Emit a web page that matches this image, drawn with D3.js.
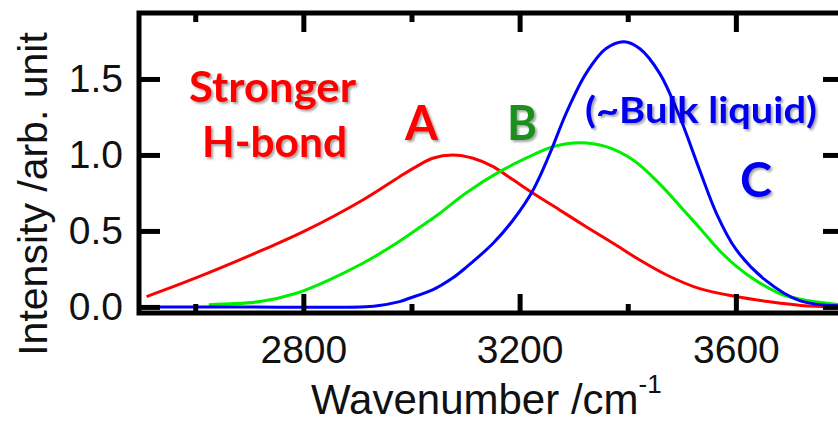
<!DOCTYPE html>
<html><head><meta charset="utf-8">
<script src="https://cdn.jsdelivr.net/npm/d3@7"></script>
<style>
body{margin:0;background:#fff}
svg{display:block}
</style>
</head><body>
<svg id="chart" width="838" height="425"></svg>
<script>
// ---- data ----
const xMajorTicks = [2800, 3200, 3600];
const xMinorTicks = [2600, 3000, 3400];
const yTicks = [0.0, 0.5, 1.0, 1.5];

const aWavenumber = [2510, 2600, 2725, 2800, 2910, 2978, 3009, 3039, 3076, 3114, 3151, 3188, 3225, 3274, 3323, 3373, 3422, 3472, 3533, 3600, 3660, 3720, 3800];
const aIntensity  = [0.068, 0.189, 0.375, 0.495, 0.704, 0.857, 0.923, 0.978, 1.0, 0.978, 0.923, 0.836, 0.748, 0.638, 0.528, 0.419, 0.309, 0.21, 0.12, 0.068, 0.035, 0.01, 0.0];

const bWavenumber = [2625, 2720, 2787, 2848, 2910, 2975, 3030, 3052, 3101, 3163, 3225, 3262, 3311, 3360, 3410, 3459, 3503, 3533, 3570, 3600, 3635, 3680, 3719, 3800];
const bIntensity  = [0.015, 0.035, 0.09, 0.178, 0.287, 0.425, 0.56, 0.615, 0.75, 0.89, 1.0, 1.055, 1.081, 1.055, 0.967, 0.81, 0.638, 0.52, 0.37, 0.27, 0.178, 0.09, 0.05, 0.012];

const cWavenumber = [2500, 2700, 2930, 2978, 2996, 3039, 3076, 3101, 3151, 3188, 3225, 3256, 3286, 3323, 3360, 3393, 3422, 3459, 3496, 3533, 3564, 3600, 3654, 3719, 3800];
const cIntensity  = [0.0, 0.0, 0.005, 0.035, 0.057, 0.112, 0.19, 0.26, 0.419, 0.572, 0.77, 1.01, 1.274, 1.537, 1.70, 1.745, 1.70, 1.537, 1.252, 0.90, 0.616, 0.38, 0.178, 0.04, 0.006];

const seriesColors = ["#ff0000", "#00ee00", "#0000ff"];

// ---- chart ----
const svg = d3.select("#chart");
const x = d3.scaleLinear().domain([2496, 3800]).range([139, 844]);
const y = d3.scaleLinear().domain([-0.04, 1.934]).range([313, 13]);

const defs = svg.append("defs");
const f = defs.append("filter").attr("id","shadow").attr("x","-10%").attr("y","-10%").attr("width","130%").attr("height","140%");
f.append("feDropShadow").attr("dx",2).attr("dy",2).attr("stdDeviation",1.2).attr("flood-color","#000").attr("flood-opacity",0.35);

const series = [
  {w: aWavenumber, v: aIntensity, c: seriesColors[0]},
  {w: bWavenumber, v: bIntensity, c: seriesColors[1]},
  {w: cWavenumber, v: cIntensity, c: seriesColors[2]}
];
const line = d3.line().x(d => x(d[0])).y(d => y(d[1])).curve(d3.curveCatmullRom.alpha(0.5));
const plot = svg.append("g");
series.forEach(s => {
  plot.append("path")
    .datum(s.w.map((w, i) => [w, s.v[i]]))
    .attr("d", line)
    .attr("fill", "none")
    .attr("stroke", s.c)
    .attr("stroke-width", 3)
    .attr("stroke-linejoin", "round");
});

// frame
svg.append("rect").attr("x", 139).attr("y", 13).attr("width", 705).attr("height", 300)
  .attr("fill", "none").attr("stroke", "#000").attr("stroke-width", 5);

function styleAxis(g) {
  g.select(".domain").remove();
  g.selectAll(".tick line").attr("stroke", "#000").attr("stroke-width", 5);
  g.selectAll("text").attr("fill", "#111").style("font-family", "'Liberation Sans', Arial, sans-serif").style("font-size", "39px");
}
// bottom
svg.append("g").attr("transform", "translate(0,313)")
  .call(d3.axisBottom(x).tickValues(xMajorTicks).tickSize(-19).tickPadding(22).tickFormat(d3.format("d")))
  .call(styleAxis);
svg.append("g").attr("transform", "translate(0,313)")
  .call(d3.axisBottom(x).tickValues(xMinorTicks).tickSize(-9).tickFormat(""))
  .call(styleAxis);
// top
svg.append("g").attr("transform", "translate(0,13)")
  .call(d3.axisTop(x).tickValues(xMajorTicks).tickSize(-19).tickFormat(""))
  .call(styleAxis);
svg.append("g").attr("transform", "translate(0,13)")
  .call(d3.axisTop(x).tickValues(xMinorTicks).tickSize(-9).tickFormat(""))
  .call(styleAxis);
// left
svg.append("g").attr("transform", "translate(139,0)")
  .call(d3.axisLeft(y).tickValues(yTicks).tickSize(-21).tickPadding(16).tickFormat(d3.format(".1f")))
  .call(styleAxis);
// right
svg.append("g").attr("transform", "translate(844,0)")
  .call(d3.axisRight(y).tickValues(yTicks).tickSize(-21).tickFormat(""))
  .call(styleAxis);

// axis titles
const tfont = "'Liberation Sans', Arial, sans-serif";
const xt = svg.append("text").attr("x", 311).attr("y", 414)
  .style("font-family", tfont).style("font-size", "42px").attr("fill", "#111");
xt.append("tspan").text("Wavenumber /cm");
xt.append("tspan").attr("dy", -21).style("font-size", "26px").text("-1");

svg.append("text").attr("transform", "translate(47,194) rotate(-90)")
  .attr("text-anchor", "middle")
  .style("font-family", tfont).style("font-size", "41px").attr("fill", "#111")
  .text("Intensity /arb. unit");

// annotations
const afont = "Lato, 'Open Sans', sans-serif";
function note(txt, x0, yb, size, len, color) {
  svg.append("text").attr("x", x0).attr("y", yb)
    .attr("textLength", len).attr("lengthAdjust", "spacingAndGlyphs")
    .style("font-family", afont).style("font-weight", 700).style("font-size", size + "px")
    .attr("fill", color).attr("filter", "url(#shadow)").text(txt);
}
note("Stronger", 189, 102, 42, 167, "#ff0000");
note("H-bond", 202, 157, 42, 145, "#ff0000");
note("A", 405, 140, 48, 33, "#ff0000");
note("B", 507, 140, 48, 30, "#1f8f1f");
note("(~Bulk liquid)", 585, 123, 37, 232, "#0000ee");
note("C", 740, 197, 48, 32, "#0000ee");
</script>
</body></html>
